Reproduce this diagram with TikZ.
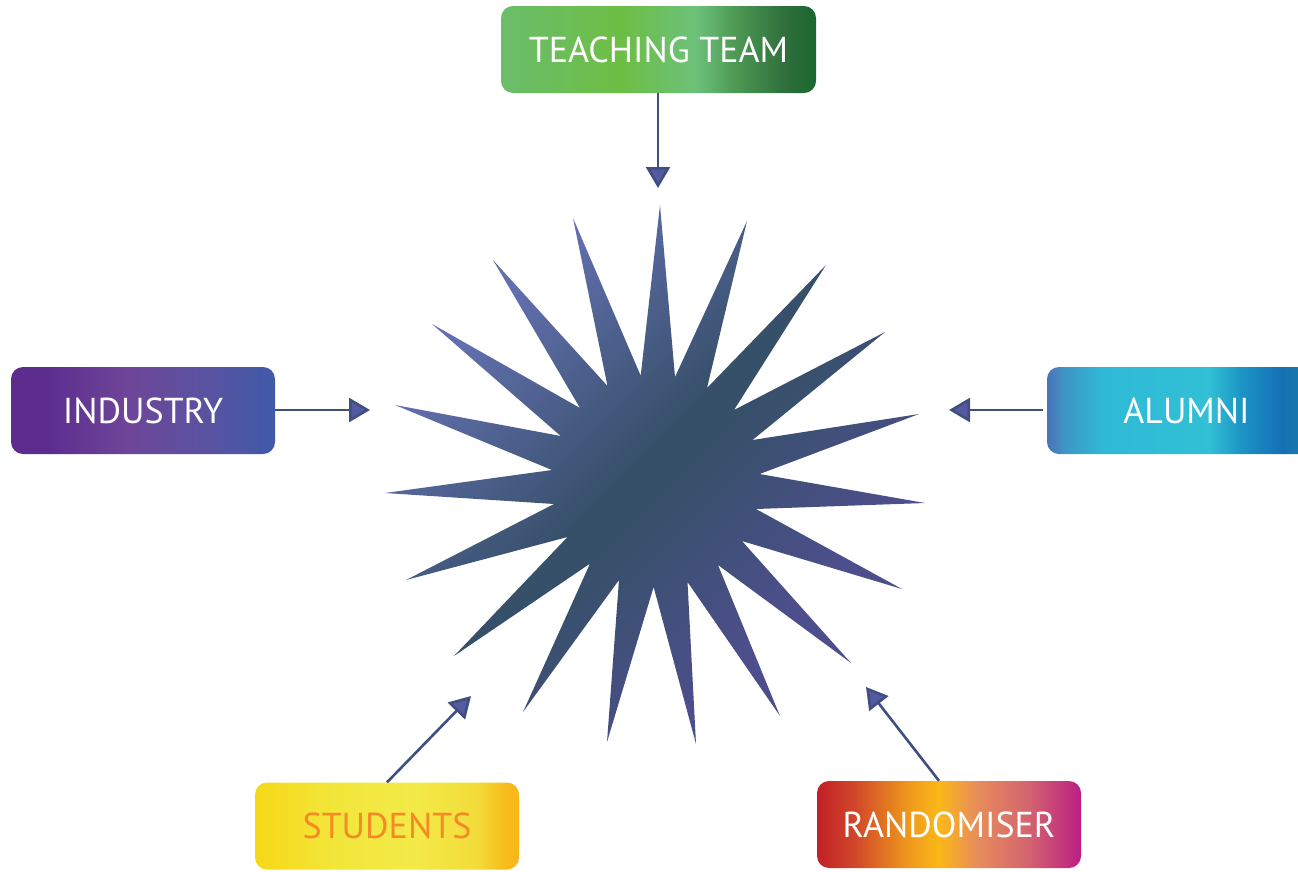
\documentclass[tikz,border=0pt]{standalone}
\usepackage{fontspec}
\setmainfont{PT Sans}
\usetikzlibrary{arrows.meta}

\definecolor{tA}{HTML}{6BBD6B}\definecolor{tB}{HTML}{6DBE45}\definecolor{tC}{HTML}{6CC17A}
\definecolor{tD}{HTML}{4E9A55}\definecolor{tE}{HTML}{2F6F3C}\definecolor{tF}{HTML}{1C6630}
\pgfdeclarehorizontalshading{gteach}{100bp}{color(0bp)=(tA); color(25bp)=(tA); color(44bp)=(tB); color(56bp)=(tC); color(62bp)=(tD); color(70bp)=(tE); color(75bp)=(tF); color(100bp)=(tF)}

\definecolor{iA}{HTML}{5C2D8F}\definecolor{iB}{HTML}{6E4598}\definecolor{iC}{HTML}{5D51A0}\definecolor{iD}{HTML}{3F5AA8}
\pgfdeclarehorizontalshading{gind}{100bp}{color(0bp)=(iA); color(25bp)=(iA); color(32bp)=(iA); color(47bp)=(iB); color(60bp)=(iC); color(75bp)=(iD); color(100bp)=(iD)}

\definecolor{aA}{HTML}{4A72B9}\definecolor{aB}{HTML}{3E95C5}\definecolor{aC}{HTML}{2FB9D6}
\definecolor{aD}{HTML}{31C0D6}\definecolor{aE}{HTML}{1B93C4}\definecolor{aF}{HTML}{1670B5}\definecolor{aG}{HTML}{1A7FA3}
\pgfdeclarehorizontalshading{galum}{100bp}{color(0bp)=(aA); color(25bp)=(aA); color(28bp)=(aB); color(35bp)=(aC); color(54bp)=(aD); color(60bp)=(aE); color(67bp)=(aF); color(73bp)=(aG); color(75bp)=(aG); color(100bp)=(aG)}

\definecolor{sA}{HTML}{F6D817}\definecolor{sB}{HTML}{F2E63A}\definecolor{sC}{HTML}{F3EA48}
\definecolor{sD}{HTML}{F2DC3A}\definecolor{sE}{HTML}{F8BE1C}\definecolor{sF}{HTML}{F8B51A}
\pgfdeclarehorizontalshading{gstu}{100bp}{color(0bp)=(sA); color(25bp)=(sA); color(40bp)=(sB); color(55bp)=(sC); color(67bp)=(sD); color(72bp)=(sE); color(75bp)=(sF); color(100bp)=(sF)}

\definecolor{rA}{HTML}{C21F27}\definecolor{rB}{HTML}{D0462A}\definecolor{rC}{HTML}{EE961C}
\definecolor{rD}{HTML}{FBB817}\definecolor{rE}{HTML}{E88E5A}\definecolor{rF}{HTML}{D3646F}\definecolor{rG}{HTML}{BC1E82}
\pgfdeclarehorizontalshading{grnd}{100bp}{color(0bp)=(rA); color(25bp)=(rA); color(32bp)=(rB); color(42bp)=(rC); color(48bp)=(rD); color(55bp)=(rE); color(65bp)=(rF); color(75bp)=(rG); color(100bp)=(rG)}

\definecolor{starA}{HTML}{6370B0}
\definecolor{starB}{HTML}{37506A}
\definecolor{starC}{HTML}{4D4F8C}
\pgfdeclareverticalshading{gstar}{100bp}{color(0bp)=(starC); color(25bp)=(starC); color(32bp)=(starC); color(48bp)=(starB); color(52bp)=(starB); color(72bp)=(starA); color(100bp)=(starA)}
\definecolor{lineC}{HTML}{3E4F80}
\definecolor{headC}{HTML}{5559A0}
\definecolor{stuText}{HTML}{F58A24}

\tikzset{
  box/.style={rounded corners=12pt, minimum height=87pt, inner sep=0pt, text=white,
    font=\fontsize{36}{40}\selectfont},
  conn/.style={draw=lineC, line width=2.6pt, -{Triangle[length=21pt,width=24pt,fill=headC]}}
}

\begin{document}
\begin{tikzpicture}[x=1pt,y=-1pt]
\useasboundingbox (0,0) rectangle (1298,871);
\clip (0,0) rectangle (1298,871);

% star
\shade[shading=gstar, shading angle=45]
 (660,205) -- (675,377) -- (747,221) -- (707,388) -- (826,265) -- (734,410)
 -- (885,332) -- (752.5,440) -- (919,414) -- (759.6,474) -- (925,503) -- (756,509)
 -- (902,589) -- (742,541) -- (851,663) -- (718,565) -- (780,716) -- (687.5,582)
 -- (696,744) -- (653.6,587) -- (607,742) -- (619,580) -- (523,712) -- (590,563.6)
 -- (454,656) -- (567.5,537) -- (406,580) -- (554,504) -- (385,493) -- (552,470)
 -- (395,405) -- (560.7,436) -- (432,324) -- (580,408) -- (493,260) -- (607.5,386)
 -- (573,218) -- (640.7,375.7) -- cycle;

% boxes
\node[box, shading=gteach, minimum width=315pt] (tt) at (658.5,49.5) {TEACHING TEAM};
\node[box, shading=gind, minimum width=264pt] (ind) at (143,410.5) {INDUSTRY};
\node[box, shading=galum, minimum width=279pt] (alu) at (1186.5,410.5) {ALUMNI};
\node[box, shading=gstu, minimum width=264pt, text=stuText] (stu) at (387,826) {STUDENTS};
\node[box, shading=grnd, minimum width=264pt] (rnd) at (949,824.5) {RANDOMISER};

% arrow tips
\coordinate (pt) at (658,188);
\coordinate (pi) at (370,410);
\coordinate (pa) at (949,410);
\coordinate (ps) at (471,696);
\coordinate (pr) at (866,687);

\draw[conn] (tt.south -| pt) -- (pt);
\draw[conn] (ind.east |- pi) -- (pi);
\draw[conn] ([xshift=-4pt]alu.west |- pa) -- (pa);
\draw[conn] (stu.north) -- (ps);
\draw[conn] ([xshift=-10pt]rnd.north) -- (pr);
\end{tikzpicture}
\end{document}
